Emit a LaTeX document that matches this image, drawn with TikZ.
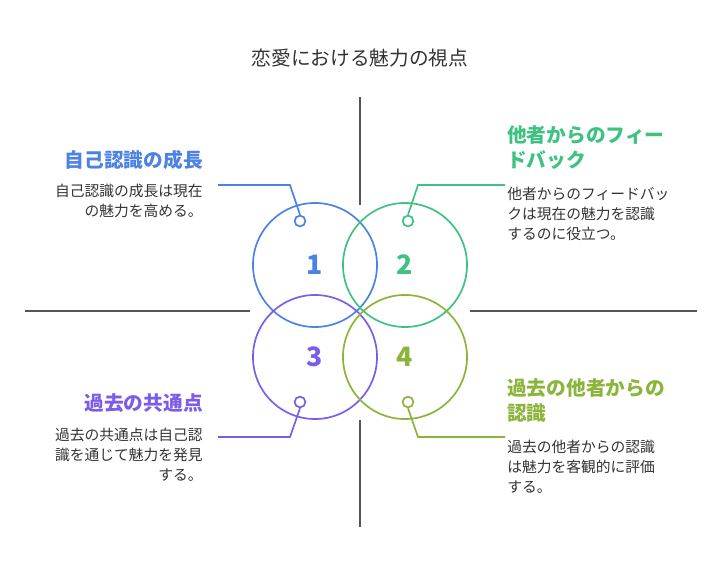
\documentclass[tikz,border=0pt]{standalone}
\usepackage{fontspec}
\setmainfont{Noto Sans CJK JP}
\usetikzlibrary{positioning}
\definecolor{cBlue}{HTML}{4C82E4}
\definecolor{cGreen}{HTML}{3DC282}
\definecolor{cPurple}{HTML}{7B5DE8}
\definecolor{cOlive}{HTML}{8BB43A}
\definecolor{cAxis}{HTML}{555555}
\begin{document}
\begin{tikzpicture}[x=0.025cm,y=-0.025cm,
    ring/.style={draw,line width=1.2pt,circle,minimum size=3.1cm},
    dot/.style={draw,line width=1.2pt,circle,fill=white,inner sep=0pt,minimum size=0.27cm},
    num/.style={font=\fontsize{19}{21}\selectfont\bfseries},
    head/.style={font=\fontsize{14}{18}\selectfont\bfseries,inner sep=0pt},
    body/.style={font=\fontsize{10.5}{14.2}\selectfont,text=black!80,inner sep=0pt}]
    \useasboundingbox (0,0) rectangle (721,576);
    % title
    \node[font=\fontsize{14}{16}\selectfont,text=black!80] (Title) at (360,58) {恋愛における魅力の視点};
    % axes
    \draw[cAxis,line width=0.8pt] (360,97) -- (360,205);
    \draw[cAxis,line width=0.8pt] (360,420) -- (360,527);
    \draw[cAxis,line width=0.8pt] (25,311) -- (250,311);
    \draw[cAxis,line width=0.8pt] (470,311) -- (697,311);
    % circles
    \node[ring,draw=cBlue]   (Ring1) at (315,265) {};
    \node[ring,draw=cGreen]  (Ring2) at (405,265) {};
    \node[ring,draw=cPurple] (Ring3) at (315,357) {};
    \node[ring,draw=cOlive]  (Ring4) at (405,357) {};
    \node[num,text=cBlue]   at (Ring1) {1};
    \node[num,text=cGreen]  at (Ring2) {2};
    \node[num,text=cPurple] at (Ring3) {3};
    \node[num,text=cOlive]  at (Ring4) {4};
    % connectors
    \node[dot,draw=cBlue]   (Dot1) at (300,221) {};
    \node[dot,draw=cGreen]  (Dot2) at (408,221) {};
    \node[dot,draw=cPurple] (Dot3) at (300,402) {};
    \node[dot,draw=cOlive]  (Dot4) at (408,402) {};
    \coordinate (End1) at (218,185);
    \coordinate (End2) at (505,185);
    \coordinate (End3) at (218,437);
    \coordinate (End4) at (505,437);
    \draw[cBlue,line width=1.2pt]   (Dot1.north) -- (290,185) -- (End1);
    \draw[cGreen,line width=1.2pt]  (Dot2.north) -- (418,185) -- (End2);
    \draw[cPurple,line width=1.2pt] (Dot3.south) -- (290,437) -- (End3);
    \draw[cOlive,line width=1.2pt]  (Dot4.south) -- (418,437) -- (End4);
    % texts
    \node[head,text=cBlue,anchor=east] (Head1) at (203,160) {自己認識の成長};
    \node[body,anchor=north east,align=right] (Body1) at (203,184) {自己認識の成長は現在\\の魅力を高める。};
    \node[head,text=cGreen,anchor=north west,align=left,font=\fontsize{14}{18}\selectfont\bfseries] (Head2) at (507,125) {他者からのフィー\\ドバック};
    \node[body,anchor=north west,align=left] (Body2) at (507,187) {他者からのフィードバッ\\クは現在の魅力を認識\\するのに役立つ。};
    \node[head,text=cPurple,anchor=east] (Head3) at (203,403) {過去の共通点};
    \node[body,anchor=north east,align=right] (Body3) at (203,428) {過去の共通点は自己認\\識を通じて魅力を発見\\する。};
    \node[head,text=cOlive,anchor=north west,align=left,font=\fontsize{14}{18}\selectfont\bfseries] (Head4) at (507,378) {過去の他者からの\\認識};
    \node[body,anchor=north west,align=left] (Body4) at (507,440) {過去の他者からの認識\\は魅力を客観的に評価\\する。};
\end{tikzpicture}
\end{document}
